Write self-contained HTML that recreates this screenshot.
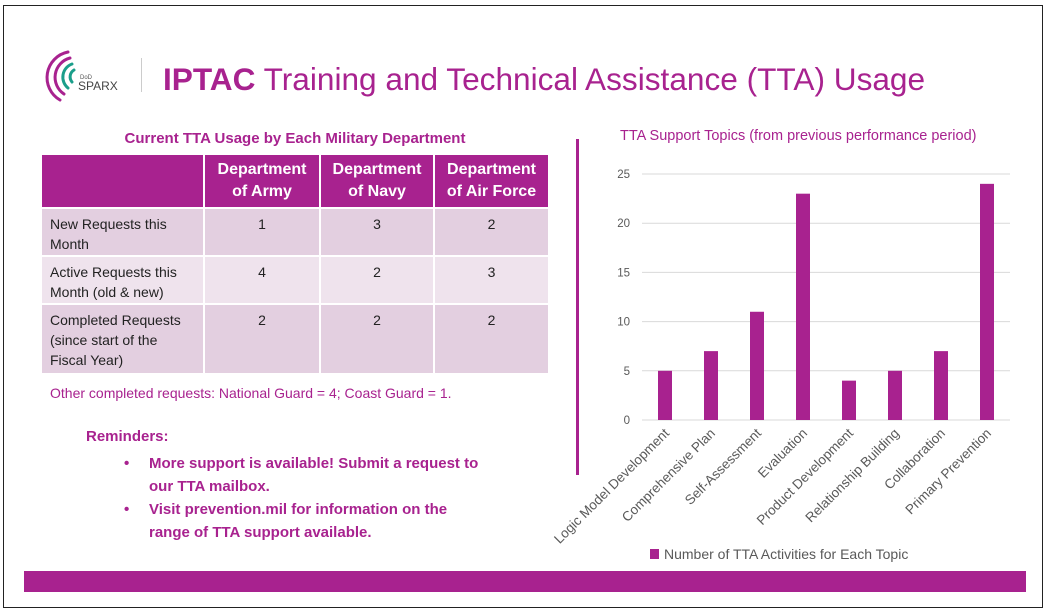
<!DOCTYPE html>
<html><head><meta charset="utf-8"><style>
body{margin:0;width:1050px;height:613px;background:#fff;position:relative;overflow:hidden;font-family:"Liberation Sans",sans-serif}
.a{position:absolute}
.p{color:#a8228f}
.cell{position:absolute;box-sizing:border-box;font-size:14px;color:#222;padding:5px 8px;line-height:20px}
.h{background:#a8228f;color:#fff;font-weight:bold;text-align:center;font-size:16px;line-height:22px;padding-top:4px;padding-left:4px;padding-right:4px}
.c{text-align:center}
</style></head><body>
<div class="a" style="left:3px;top:5px;width:1038px;height:601px;border:1px solid #222"></div>
<svg class="a" style="left:40px;top:42px" width="90" height="64">
<g fill="none" stroke-linecap="round">
<path d="M28 10 A26 26 0 0 0 20 58" stroke="#a8228f" stroke-width="3"/>
<path d="M30 16 A20 20 0 0 0 24 52" stroke="#a8228f" stroke-width="3"/>
<path d="M32 22 A14 14 0 0 0 28 46" stroke="#1a9e8a" stroke-width="3"/>
<path d="M34 28 A8 8 0 0 0 32 40" stroke="#1a9e8a" stroke-width="3"/>
</g>
<text x="40" y="37" font-size="6" fill="#555" font-family="Liberation Sans">DoD</text>
<text x="38" y="48" font-size="12" fill="#444" font-family="Liberation Sans">SPARX</text>
</svg>
<div class="a" style="left:141px;top:58px;width:1px;height:34px;background:#ccc"></div>
<div class="a p" style="left:163px;top:61px;font-size:31.6px;white-space:nowrap"><b>IPTAC</b> Training and Technical Assistance (TTA) Usage</div>
<div class="a p" style="left:42px;width:506px;top:130px;text-align:center;font-weight:bold;font-size:15px">Current TTA Usage by Each Military Department</div>
<div>
<div class="cell h" style="left:42px;top:155px;width:161px;height:52px"></div>
<div class="cell h" style="left:205px;top:155px;width:114px;height:52px">Department of Army</div>
<div class="cell h" style="left:321px;top:155px;width:112px;height:52px">Department of Navy</div>
<div class="cell h" style="left:435px;top:155px;width:113px;height:52px">Department of Air Force</div>
<div class="cell" style="left:42px;top:209px;width:161px;height:46px;background:#e3cfe0">New Requests this Month</div>
<div class="cell c" style="left:205px;top:209px;width:114px;height:46px;background:#e3cfe0">1</div>
<div class="cell c" style="left:321px;top:209px;width:112px;height:46px;background:#e3cfe0">3</div>
<div class="cell c" style="left:435px;top:209px;width:113px;height:46px;background:#e3cfe0">2</div>
<div class="cell" style="left:42px;top:257px;width:161px;height:46px;background:#efe3ed">Active Requests this Month (old &amp; new)</div>
<div class="cell c" style="left:205px;top:257px;width:114px;height:46px;background:#efe3ed">4</div>
<div class="cell c" style="left:321px;top:257px;width:112px;height:46px;background:#efe3ed">2</div>
<div class="cell c" style="left:435px;top:257px;width:113px;height:46px;background:#efe3ed">3</div>
<div class="cell" style="left:42px;top:305px;width:161px;height:68px;background:#e3cfe0">Completed Requests (since start of the Fiscal Year)</div>
<div class="cell c" style="left:205px;top:305px;width:114px;height:68px;background:#e3cfe0">2</div>
<div class="cell c" style="left:321px;top:305px;width:112px;height:68px;background:#e3cfe0">2</div>
<div class="cell c" style="left:435px;top:305px;width:113px;height:68px;background:#e3cfe0">2</div>
</div>
<div class="a p" style="left:50px;top:385px;font-size:14px">Other completed requests: National Guard = 4; Coast Guard = 1.</div>
<div class="a p" style="left:86px;top:428px;font-size:15px;font-weight:bold">Reminders:</div>
<div class="a p" style="left:124px;top:452px;width:375px;font-size:15px;font-weight:bold;line-height:23px"><span style="position:absolute;left:0">•</span><div style="margin-left:25px">More support is available! Submit a request to our TTA mailbox.</div></div>
<div class="a p" style="left:124px;top:498px;width:375px;font-size:15px;font-weight:bold;line-height:23px"><span style="position:absolute;left:0">•</span><div style="margin-left:25px">Visit prevention.mil for information on the<br>range of TTA support available.</div></div>
<div class="a" style="left:576px;top:139px;width:3px;height:336px;background:#a8228f"></div>
<div class="a p" style="left:620px;top:128px;font-size:14.5px;white-space:nowrap">TTA Support Topics (from previous performance period)</div>
<svg class="a" id="chart" style="left:540px;top:150px" width="500" height="420"></svg>
<div class="a" style="left:24px;top:571px;width:1002px;height:21px;background:#a8228f"></div>
<script>
const categories=["Logic Model Development","Comprehensive Plan","Self-Assessment","Evaluation","Product Development","Relationship Building","Collaboration","Primary Prevention"];
const values=[5,7,11,23,4,5,7,24];
const ticks=[0,5,10,15,20,25];
const svg=document.getElementById('chart');
const NS='http://www.w3.org/2000/svg';
const ox=540,oy=150;
const x0=642-ox,x1=1010-ox,yb=420-oy,yt=174-oy,vmax=25;
const y=v=>yb-(v/vmax)*(yb-yt);
const step=(x1-x0)/categories.length;
const xc=i=>x0+step*(i+0.5);
function mk(t,a){const e=document.createElementNS(NS,t);for(const k in a)e.setAttribute(k,a[k]);svg.appendChild(e);return e;}
ticks.forEach(t=>{
 const l=mk('line',{x1:x0,x2:x1,y1:y(t),y2:y(t),stroke:'#d9d9d9','stroke-width':1});
 
 
 const tx=mk('text',{x:x0-12,y:y(t)+4,'text-anchor':'end','font-size':11.5,fill:'#595959','font-family':'Liberation Sans'});
 tx.textContent=t;
 
 
});
values.forEach((v,i)=>{
 const r=mk('rect',{x:xc(i)-7,y:y(v),width:14,height:yb-y(v),fill:'#a8228f'});
 
 
 const tx=mk('text',{x:0,y:0,'text-anchor':'end','font-size':13.5,fill:'#595959','font-family':'Liberation Sans',transform:`translate(${xc(i)+5},${yb+14}) rotate(-45)`});
 tx.textContent=categories[i];
 
 
});
const lg=mk('rect',{x:650-ox,y:549-oy,width:9,height:10,fill:'#a8228f'});


const lt=mk('text',{x:664-ox,y:559-oy,'font-size':14,fill:'#595959','font-family':'Liberation Sans'});
lt.textContent='Number of TTA Activities for Each Topic';


</script>
</body></html>
